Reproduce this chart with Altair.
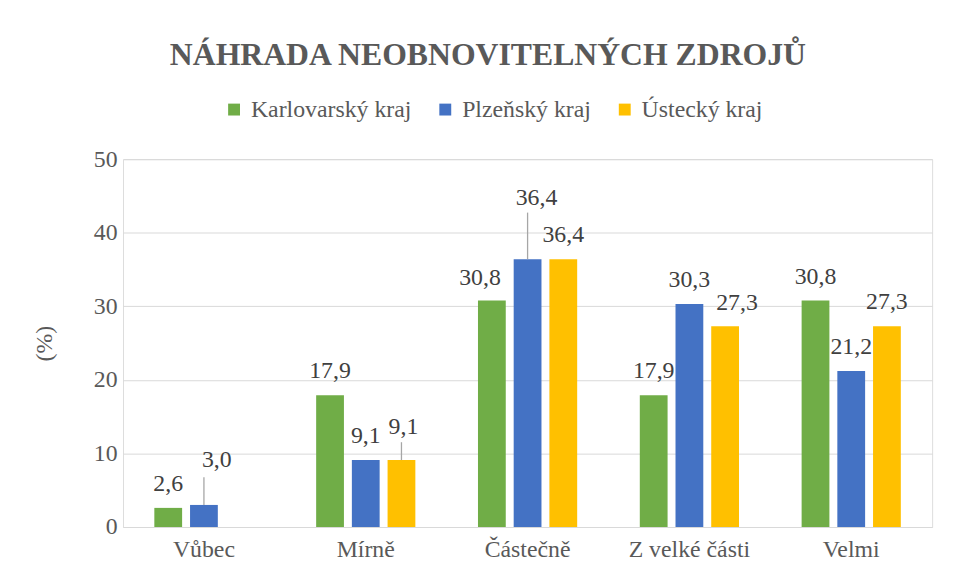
import altair as alt
import pandas as pd

categories = ["Vůbec", "Mírně", "Částečně", "Z velké části", "Velmi"]
series = ["Karlovarský kraj", "Plzeňský kraj", "Ústecký kraj"]
karlovarsky = [2.6, 17.9, 30.8, 17.9, 30.8]
plzensky = [3.0, 9.1, 36.4, 30.3, 21.2]
ustecky = [None, 9.1, 36.4, 27.3, 27.3]
colors = ["#70AD47", "#4472C4", "#FFC000"]
y_ticks = [0, 10, 20, 30, 40, 50]

# label placement tweaks (pixels): (category, series) -> (dx, dy, leader length)
label_nudges = {
    ("Vůbec", "Plzeňský kraj"): (13, -45, 28),
    ("Mírně", "Ústecký kraj"): (2, -33, 18),
    ("Částečně", "Plzeňský kraj"): (9, -62, 47),
    ("Částečně", "Karlovarský kraj"): (-12, -23, 0),
    ("Z velké části", "Ústecký kraj"): (12, -23, 0),
}

rows = []
for s, vals in zip(series, [karlovarsky, plzensky, ustecky]):
    for c, v in zip(categories, vals):
        rows.append({"cat": c, "series": s, "value": v})
df = pd.DataFrame(rows)

FONT = "Liberation Serif"
AX = "#595959"
FS = 24

x_enc = alt.X(
    "cat:N", sort=categories,
    scale=alt.Scale(domain=categories, paddingInner=0.338, paddingOuter=0.169),
    axis=alt.Axis(title=None, labelAngle=0, domain=False, ticks=False, grid=False,
                  labelFont=FONT, labelFontSize=FS, labelColor=AX, labelPadding=11),
)
xo_enc = alt.XOffset(
    "series:N", sort=series,
    scale=alt.Scale(domain=series, paddingInner=0.222, paddingOuter=0.111),
)
y_enc = alt.Y(
    "value:Q", scale=alt.Scale(domain=[0, 50]),
    axis=alt.Axis(values=y_ticks, title="(%)", grid=True, gridColor="#D9D9D9",
                  domain=False, ticks=False, labelFont=FONT, labelFontSize=FS,
                  labelColor=AX, labelPadding=6, titleFont=FONT, titleFontSize=FS,
                  titleFontWeight="normal", titleColor=AX, titlePadding=37),
)

base = alt.Chart(df).encode(x=x_enc, xOffset=xo_enc, y=y_enc)

bars = base.mark_bar().encode(
    color=alt.Color(
        "series:N",
        scale=alt.Scale(domain=series, range=colors),
        legend=alt.Legend(title=None, orient="none", legendX=100, legendY=-62,
                          direction="horizontal", symbolType="square", symbolSize=144,
                          symbolStrokeWidth=0, labelFont=FONT, labelFontSize=FS,
                          labelColor=AX, columnPadding=22, labelOffset=5,
                          labelLimit=400),
    )
)

label_expr = "replace(format(datum.value, '.1f'), '.', ',')"


def sel(c, s):
    return f"datum.cat == '{c}' && datum.series == '{s}'"


not_nudged = " && ".join(f"!({sel(c, s)})" for (c, s) in label_nudges)

layers = [bars]
layers.append(
    base.transform_filter("isValid(datum.value)")
    .transform_filter(not_nudged)
    .transform_calculate(lbl=label_expr)
    .mark_text(font=FONT, fontSize=FS, color="#404040", baseline="middle", dy=-24)
    .encode(text="lbl:N")
)
for (c, s), (dx, dy, lead) in label_nudges.items():
    layers.append(
        base.transform_filter(sel(c, s))
        .transform_calculate(lbl=label_expr)
        .mark_text(font=FONT, fontSize=FS, color="#404040", baseline="middle", dx=dx, dy=dy)
        .encode(text="lbl:N")
    )
    if lead:
        layers.append(
            base.transform_filter(sel(c, s))
            .mark_rule(color="#A6A6A6", strokeWidth=1.3, y2Offset=-lead)
            .encode(y2=alt.Y2("value:Q"))
        )

chart = (
    alt.layer(*layers)
    .properties(
        width=816, height=371,
        padding={"left": 116, "top": 150, "right": 16, "bottom": 51},
        autosize=alt.AutoSizeParams(type="none"),
        title=alt.TitleParams("NÁHRADA NEOBNOVITELNÝCH ZDROJŮ", font=FONT, fontSize=32,
                              fontWeight="bold", color=AX, anchor="middle", offset=26,
                              dx=-40),
    )
    .configure_view(stroke=None)
    .configure(background="white")
)

chart.save("out.html", embed_options={"renderer": "svg", "actions": False})
